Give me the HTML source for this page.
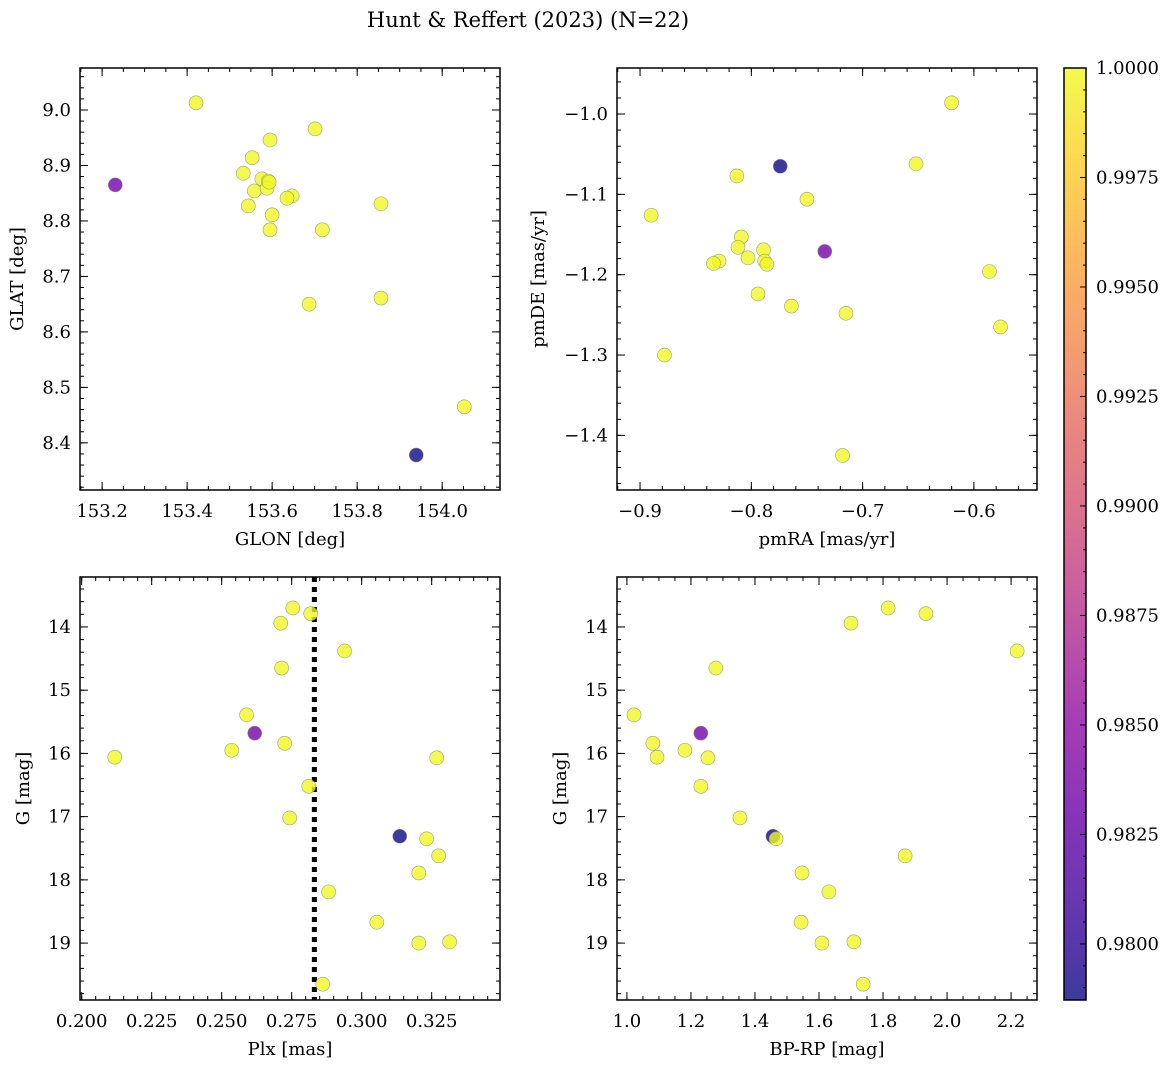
<!DOCTYPE html>
<html><head><meta charset="utf-8">
<style>
body{margin:0;background:#fff;}
svg text{font-family:"DejaVu Serif","Liberation Serif",serif;fill:#000;}
</style></head>
<body>
<svg id="fig" width="1173" height="1067" viewBox="0 0 1173 1067" xmlns="http://www.w3.org/2000/svg">
<text x="528" y="27" font-size="21" text-anchor="middle">Hunt &amp; Reffert (2023) (N=22)</text>
</svg>
<script>
// ---- data ----
const glon = [153.421,153.231,153.701,153.595,153.553,153.532,153.576,153.591,153.558,153.588,153.647,153.635,153.544,153.856,153.600,153.595,153.718,153.687,153.856,154.052,153.939,153.593];
const glat = [9.013,8.865,8.966,8.946,8.914,8.886,8.876,8.872,8.854,8.859,8.845,8.841,8.827,8.831,8.811,8.784,8.784,8.650,8.661,8.465,8.378,8.870];
const probPos = [1,0.9835,1,1,1,1,1,1,1,1,1,1,1,1,1,1,1,1,1,1,0.9787,1];
const pmra = [-0.620,-0.652,-0.774,-0.813,-0.750,-0.890,-0.809,-0.812,-0.734,-0.789,-0.803,-0.829,-0.834,-0.788,-0.786,-0.586,-0.794,-0.764,-0.715,-0.576,-0.878,-0.718];
const pmde = [-0.986,-1.062,-1.065,-1.077,-1.106,-1.126,-1.153,-1.166,-1.171,-1.169,-1.179,-1.183,-1.186,-1.183,-1.187,-1.196,-1.224,-1.239,-1.248,-1.265,-1.300,-1.425];
const probPm = [1,1,0.9787,1,1,1,1,1,0.9835,1,1,1,1,1,1,1,1,1,1,1,1,1];
const plx = [0.2754,0.2711,0.2818,0.2939,0.2714,0.2589,0.2618,0.2725,0.2536,0.2118,0.3268,0.2811,0.2743,0.3136,0.3232,0.3275,0.3204,0.2882,0.3054,0.3204,0.3314,0.2861];
const gmag = [13.70,13.94,13.79,14.38,14.65,15.39,15.68,15.84,15.95,16.06,16.07,16.52,17.02,17.31,17.35,17.62,17.89,18.19,18.67,19.00,18.98,19.65];
const bprp = [1.816,1.700,1.934,2.219,1.278,1.022,1.231,1.081,1.181,1.094,1.253,1.231,1.353,1.456,1.466,1.869,1.547,1.631,1.544,1.609,1.709,1.738];
const probCmd = [1,1,1,1,1,1,0.9835,1,1,1,1,1,1,0.9787,1,1,1,1,1,1,1,1];
const plxRef = 0.2831;
const cbMin = 0.97872, cbMax = 1.0;
const cbTicks = [0.98,0.9825,0.985,0.9875,0.99,0.9925,0.995,0.9975,1.0];

const NS="http://www.w3.org/2000/svg";
const svg=document.getElementById('fig');
function el(tag,attrs,parent){const e=document.createElementNS(NS,tag);for(const k in attrs)e.setAttribute(k,attrs[k]);(parent||svg).appendChild(e);return e;}
const stops=[[13,8,135],[65,4,157],[106,0,168],[143,13,164],[177,42,144],[204,71,120],[225,100,98],[242,132,75],[252,166,54],[252,206,37],[240,249,33]];
function plasma(t){t=Math.max(0,Math.min(1,t));const f=t*10,i=Math.min(9,Math.floor(f)),u=f-i;const a=stops[i],b=stops[i+1];return 'rgb('+a.map((v,k)=>Math.round(v+(b[k]-v)*u)).join(',')+')';}
function cval(p){return plasma((p-cbMin)/(cbMax-cbMin));}
function fmt(v,d){const s=v.toFixed(d);return v<0?'\u2212'+s.slice(1):s;}

function panel(cfg){
  const g=el('g',{});  
  const {x0,x1,y0,y1}=cfg;
  const sx=v=>x0+(v-cfg.xlim[0])/(cfg.xlim[1]-cfg.xlim[0])*(x1-x0);
  const sy=v=>cfg.inv? y0+(v-cfg.ylim[0])/(cfg.ylim[1]-cfg.ylim[0])*(y1-y0) : y1-(v-cfg.ylim[0])/(cfg.ylim[1]-cfg.ylim[0])*(y1-y0);
  const clip='c'+cfg.name; const cp=el('clipPath',{id:clip},g); el('rect',{x:x0,y:y0,width:x1-x0,height:y1-y0},cp);
  const pg=el('g',{'clip-path':'url(#'+clip+')'},g);
  if(cfg.vline!==undefined){const l=el('line',{x1:sx(cfg.vline),x2:sx(cfg.vline),y1:y0,y2:y1,stroke:'#000','stroke-width':5,'stroke-dasharray':'5,5'},pg);
    
    }
  cfg.xs.forEach((xv,i)=>{const c=el('circle',{cx:sx(xv),cy:sy(cfg.ys[i]),r:7,fill:cval(cfg.p[i]),'fill-opacity':0.8,stroke:'#888','stroke-width':0.6,'stroke-opacity':0.8},pg);
    
    });
  const tk=(v0,v1,step)=>{const a=[];const n0=Math.ceil(v0/step-1e-6),n1=Math.floor(v1/step+1e-6);for(let n=n0;n<=n1;n++)a.push(n*step);return a;};
  const [xmin,xmax]=[Math.min(...cfg.xlim),Math.max(...cfg.xlim)],[ymin,ymax]=[Math.min(...cfg.ylim),Math.max(...cfg.ylim)];
  tk(xmin,xmax,cfg.xminor).forEach(v=>{const X=sx(v);el('line',{x1:X,x2:X,y1:y1,y2:y1-4,stroke:'#000'},g);el('line',{x1:X,x2:X,y1:y0,y2:y0+4,stroke:'#000'},g);});
  tk(ymin,ymax,cfg.yminor).forEach(v=>{const Y=sy(v);el('line',{x1:x0,x2:x0+4,y1:Y,y2:Y,stroke:'#000'},g);el('line',{x1:x1,x2:x1-4,y1:Y,y2:Y,stroke:'#000'},g);});
  tk(xmin,xmax,cfg.xmajor).forEach(v=>{const X=sx(v);el('line',{x1:X,x2:X,y1:y1,y2:y1-8,stroke:'#000'},g);el('line',{x1:X,x2:X,y1:y0,y2:y0+8,stroke:'#000'},g);
    const t=el('text',{x:X,y:y1+27,'font-size':18,'text-anchor':'middle'},g);t.textContent=fmt(v,cfg.xd);
    
    });
  tk(ymin,ymax,cfg.ymajor).forEach(v=>{const Y=sy(v);el('line',{x1:x0,x2:x0+8,y1:Y,y2:Y,stroke:'#000'},g);el('line',{x1:x1,x2:x1-8,y1:Y,y2:Y,stroke:'#000'},g);
    const t=el('text',{x:x0-9,y:Y+6,'font-size':18,'text-anchor':'end'},g);t.textContent=fmt(v,cfg.yd);
    
    });
  el('rect',{x:x0,y:y0,width:x1-x0,height:y1-y0,fill:'none',stroke:'#000','stroke-width':1.5},g);
  const xl=el('text',{x:(x0+x1)/2,y:y1+55,'font-size':18,'text-anchor':'middle'},g);xl.textContent=cfg.xlabel;
  
  
  const yx=cfg.ylx, yy=(y0+y1)/2;
  const yl=el('text',{x:yx,y:yy,'font-size':18,'text-anchor':'middle',transform:'rotate(-90 '+yx+' '+yy+')'},g);yl.textContent=cfg.ylabel;
  
  
}
panel({name:'position-panel',x0:80,x1:500,y0:68,y1:490,xlim:[153.148,154.136],ylim:[8.315,9.0757],xmajor:0.2,xminor:0.05,ymajor:0.1,yminor:0.02,xd:1,yd:1,xs:glon,ys:glat,p:probPos,xlabel:'GLON [deg]',ylabel:'GLAT [deg]',ylx:23});
panel({name:'proper-motion-panel',x0:617,x1:1037,y0:68,y1:490,xlim:[-0.9207,-0.5433],ylim:[-1.468,-0.9427],xmajor:0.1,xminor:0.02,ymajor:0.1,yminor:0.02,xd:1,yd:1,xs:pmra,ys:pmde,p:probPm,xlabel:'pmRA [mas/yr]',ylabel:'pmDE [mas/yr]',ylx:544});
panel({name:'parallax-magnitude-panel',x0:80,x1:500,y0:577,y1:1000,xlim:[0.1994,0.3494],ylim:[13.21,19.90],inv:true,xmajor:0.025,xminor:0.005,ymajor:1,yminor:0.2,xd:3,yd:0,xs:plx,ys:gmag,p:probCmd,xlabel:'Plx [mas]',ylabel:'G [mag]',ylx:29,vline:plxRef});
panel({name:'color-magnitude-panel',x0:617,x1:1037,y0:577,y1:1000,xlim:[0.969,2.281],ylim:[13.21,19.90],inv:true,xmajor:0.2,xminor:0.05,ymajor:1,yminor:0.2,xd:1,yd:0,xs:bprp,ys:gmag,p:probCmd,xlabel:'BP-RP [mag]',ylabel:'G [mag]',ylx:566});

const cb=el('g',{});
const cx0=1064,cx1=1086,cy0=68,cy1=1000;
const defs=el('defs',{},cb);const lg=el('linearGradient',{id:'cbg',x1:0,y1:1,x2:0,y2:0},defs);
for(let i=0;i<=20;i++)el('stop',{offset:i/20,'stop-color':plasma(i/20),'stop-opacity':0.8},lg);
el('rect',{x:cx0,y:cy0,width:cx1-cx0,height:cy1-cy0,fill:'url(#cbg)'},cb);
const cy=v=>cy1-(v-cbMin)/(cbMax-cbMin)*(cy1-cy0);
for(let v=0.9790;v<=1.00001;v+=0.0005){const Y=cy(v);el('line',{x1:cx1,x2:cx1-3,y1:Y,y2:Y,stroke:'#000'},cb);}
cbTicks.forEach(v=>{const Y=cy(v);el('line',{x1:cx1,x2:cx1-6,y1:Y,y2:Y,stroke:'#000'},cb);
  const t=el('text',{x:1096,y:Y+6,'font-size':18},cb);t.textContent=v.toFixed(4);
  
  });
el('rect',{x:cx0,y:cy0,width:cx1-cx0,height:cy1-cy0,fill:'none',stroke:'#000','stroke-width':1.5},cb);
</script>
</body></html>
